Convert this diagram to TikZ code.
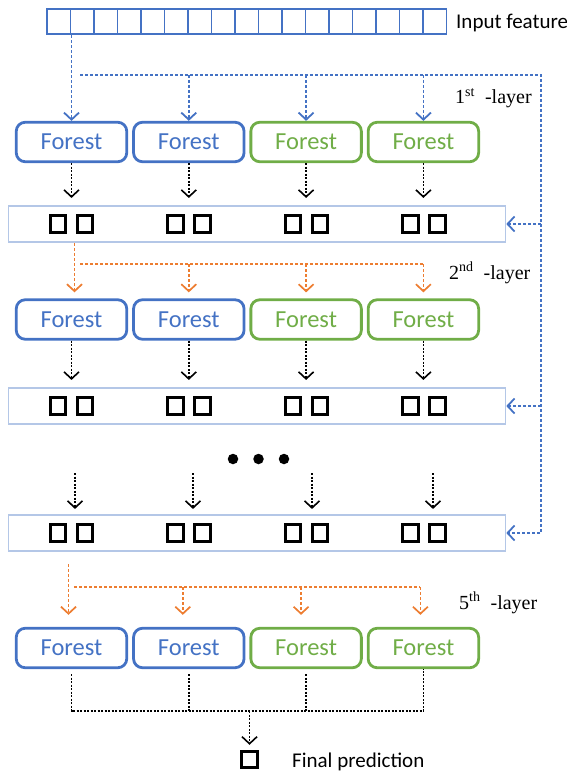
\documentclass[tikz,border=0pt]{standalone}
\usepackage{fontspec}
\setmainfont{Liberation Serif}
\newfontfamily\calib{Carlito}
\usetikzlibrary{positioning,arrows.meta}
\definecolor{fblue}{HTML}{4472C4}
\definecolor{fgreen}{HTML}{70AD47}
\definecolor{forange}{HTML}{ED7D31}
\definecolor{barblue}{HTML}{B4C7E7}

\begin{document}
\begin{tikzpicture}[x=1pt, y=-1pt,
        bluenode/.style={rectangle, rounded corners=9pt, draw=fblue, line width=2.8pt, minimum width=110.5pt, minimum height=39.5pt, text=fblue, font=\calib\fontsize{24.5}{28}\selectfont},
        greennode/.style={bluenode, draw=fgreen, text=fgreen},
        barnode/.style={rectangle, draw=barblue, line width=1.6pt, minimum width=497pt, minimum height=36.5pt},
        cellnode/.style={rectangle, draw=fblue, line width=1.8pt, minimum width=23.5pt, minimum height=25.5pt, inner sep=0pt},
        outnode/.style={rectangle, draw=black, line width=2.9pt, minimum width=15.5pt, minimum height=17.5pt, inner sep=0pt},
        dotnode/.style={circle, fill=black, minimum size=10.5pt, inner sep=0pt},
        labelnode/.style={anchor=base west, inner sep=0pt, font=\fontsize{20}{24}\selectfont},
        sanslabel/.style={labelnode, font=\calib\fontsize{21}{25}\selectfont},
        bluedash/.style={draw=fblue, line width=1.8pt, dash pattern=on 3pt off 2pt},
        orangedash/.style={draw=forange, line width=1.7pt, dash pattern=on 3pt off 2pt},
        blackdash/.style={draw=black, line width=1.6pt, dash pattern=on 2pt off 1.5pt},
        tip/.style={-{Straight Barb[length=7pt, width=15pt]}}]
    \useasboundingbox (0,0) rectangle (567,773);
    % input feature
    \foreach \i in {1,...,17}
        \node[cellnode] (in\i) at ({47+23.5*(\i-0.5)},21.5) {};
    \node[sanslabel] (inlabel) at (456,29) {Input feature};
    % forests
    \node[bluenode] (f11) at (71.5,142) {Forest};
    \node[bluenode] (f12) [right=4pt of f11] {Forest};
    \node[greennode] (f13) [right=4pt of f12] {Forest};
    \node[greennode] (f14) [right=4pt of f13] {Forest};
    \node[bluenode] (f21) at (71.5,319.5) {Forest};
    \node[bluenode] (f22) [right=4pt of f21] {Forest};
    \node[greennode] (f23) [right=4pt of f22] {Forest};
    \node[greennode] (f24) [right=4pt of f23] {Forest};
    \node[bluenode] (f31) at (71.5,648) {Forest};
    \node[bluenode] (f32) [right=4pt of f31] {Forest};
    \node[greennode] (f33) [right=4pt of f32] {Forest};
    \node[greennode] (f34) [right=4pt of f33] {Forest};
    % class vectors
    \node[barnode] (bar1) at (257,224) {};
    \node[barnode] (bar2) at (257,406) {};
    \node[barnode] (bar3) at (257,533) {};
    \foreach \b/\y in {1/224,2/406,3/533}
        \foreach \c/\x in {1/71.5,2/189,3/306.5,4/424} {
            \node[outnode] (sa\b\c) at (\x-13.5,\y) {};
            \node[outnode] (sb\b\c) at (\x+13.5,\y) {};
        }
    \node[dotnode] (d1) at (233,459) {};
    \node[dotnode] (d2) at (258.5,459) {};
    \node[dotnode] (d3) at (284,459) {};
    \node[outnode, minimum width=16.5pt, minimum height=16.5pt] (fin) at (249.5,759.5) {};
    \node[sanslabel] (finlabel) at (292,767) {Final prediction};
    % layer labels
    \node[labelnode] (l1) at (455,104) {1\textsuperscript{st}\ \ -layer};
    \node[labelnode] (l2) at (449,279) {2\textsuperscript{nd}\ \ -layer};
    \node[labelnode] (l5) at (459,609) {5\textsuperscript{th}\ \ -layer};
    % blue feed
    \coordinate (bs) at (80,75);
    \coordinate (be) at (541,75);
    \draw[bluedash,tip] (f11.north |- in1.south) -- (f11.north);
    \draw[bluedash,tip] (bs) -- (be) |- (bar3.east);
    \draw[bluedash,tip] (f12.north |- bs) -- (f12.north);
    \draw[bluedash,tip] (f13.north |- bs) -- (f13.north);
    \draw[bluedash,tip] (f14.north |- bs) -- (f14.north);
    \draw[bluedash,tip] (be |- bar1.east) -- (bar1.east);
    \draw[bluedash,tip] (be |- bar2.east) -- (bar2.east);
    % forests to class vectors
    \draw[blackdash,tip,shorten >=7pt] (f11.south) -- (f11.south |- bar1.north);
    \draw[blackdash,tip,shorten >=7pt] (f12.south) -- (f12.south |- bar1.north);
    \draw[blackdash,tip,shorten >=7pt] (f13.south) -- (f13.south |- bar1.north);
    \draw[blackdash,tip,shorten >=7pt] (f14.south) -- (f14.south |- bar1.north);
    \draw[blackdash,tip,shorten >=7pt] (f21.south) -- (f21.south |- bar2.north);
    \draw[blackdash,tip,shorten >=7pt] (f22.south) -- (f22.south |- bar2.north);
    \draw[blackdash,tip,shorten >=7pt] (f23.south) -- (f23.south |- bar2.north);
    \draw[blackdash,tip,shorten >=7pt] (f24.south) -- (f24.south |- bar2.north);
    \coordinate (e1) at (75,473);
    \coordinate (e2) at (193,473);
    \coordinate (e3) at (312,473);
    \coordinate (e4) at (433,473);
    \draw[blackdash,tip,shorten >=5pt] (e1) -- (e1 |- bar3.north);
    \draw[blackdash,tip,shorten >=5pt] (e2) -- (e2 |- bar3.north);
    \draw[blackdash,tip,shorten >=5pt] (e3) -- (e3 |- bar3.north);
    \draw[blackdash,tip,shorten >=5pt] (e4) -- (e4 |- bar3.north);
    % orange feed, 2nd layer
    \coordinate (o1) at (80,264);
    \draw[orangedash,tip,shorten >=6pt] ([xshift=3pt]f21.north |- bar1.south) -- ([xshift=3pt]f21.north);
    \draw[orangedash] (o1) -- (f24.north |- o1);
    \draw[orangedash,tip,shorten >=6pt] (f22.north |- o1) -- (f22.north);
    \draw[orangedash,tip,shorten >=6pt] (f23.north |- o1) -- (f23.north);
    \draw[orangedash,tip,shorten >=6pt] (f24.north |- o1) -- (f24.north);
    % orange feed, 5th layer
    \coordinate (o5) at (74,587);
    \draw[orangedash,tip,shorten <=12pt,shorten >=12pt] ([xshift=-3pt]f31.north |- bar3.south) -- ([xshift=-3pt]f31.north);
    \draw[orangedash] (o5) -- ([xshift=-3pt]f34.north |- o5);
    \draw[orangedash,tip,shorten >=12pt] ([xshift=-6pt]f32.north |- o5) -- ([xshift=-6pt]f32.north);
    \draw[orangedash,tip,shorten >=12pt] ([xshift=-5pt]f33.north |- o5) -- ([xshift=-5pt]f33.north);
    \draw[orangedash,tip,shorten >=12pt] ([xshift=-3pt]f34.north |- o5) -- ([xshift=-3pt]f34.north);
    % final prediction
    \coordinate (j) at (249.5,711);
    \draw[blackdash,shorten <=5pt] (f31.south) -- (f31.south |- j) -- (f34.south |- j) -- (f34.south);
    \draw[blackdash,shorten <=5pt] (f32.south) -- (f32.south |- j);
    \draw[blackdash,shorten <=5pt] (f33.south) -- (f33.south |- j);
    \draw[blackdash,tip,shorten >=5pt] (j) -- (fin.north);
\end{tikzpicture}
\end{document}
